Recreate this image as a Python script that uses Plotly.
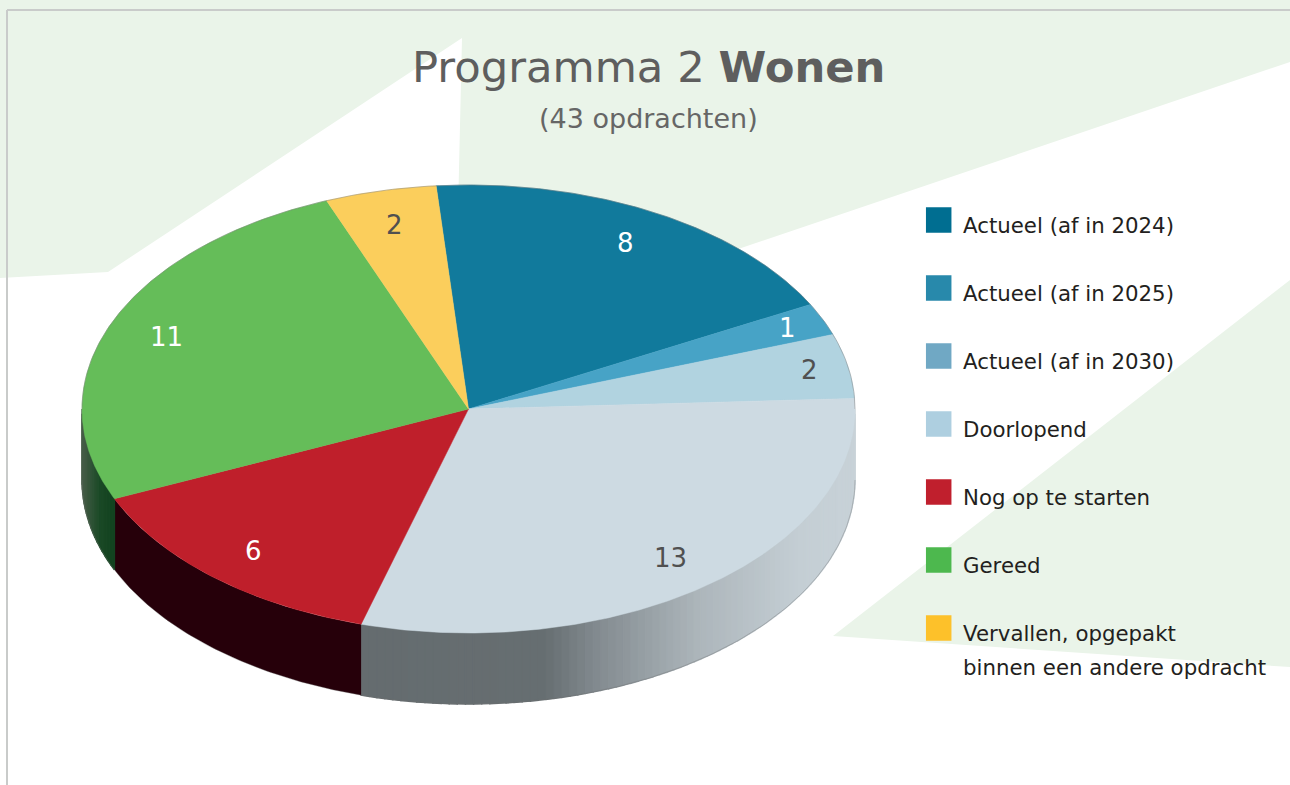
import numpy as np
import plotly.graph_objects as go

# ---------------- data ----------------
title_main = "Programma 2 "
title_bold = "Wonen"
subtitle = "(43 opdrachten)"
categories = [
    "Actueel (af in 2024)",
    "Actueel (af in 2025)",
    "Actueel (af in 2030)",
    "Doorlopend",
    "Nog op te starten",
    "Gereed",
    "Vervallen, opgepakt\nbinnen een andere opdracht",
]
values = [8, 1, 2, 13, 6, 11, 2]
legend_colors = ["#006E91", "#2889AB", "#70A8C4", "#AECFE0", "#C01F2D", "#4DB84E", "#FDC12A"]
top_colors = ["#117A9C", "#47A3C6", "#B1D3E0", "#CDDAE2", "#BF1F2B", "#65BD59", "#FBCE5C"]
label_colors = ["#FFFFFF", "#FFFFFF", "#505050", "#505050", "#FFFFFF", "#FFFFFF", "#505050"]

# ---------------- geometry / style ----------------
W, H = 1290, 785
CX, CY, RX, RY, DEPTH = 468.5, 409.0, 386.5, 224.0, 71.0
START = 94.8          # degrees, slices run clockwise
side_stops = {
    3: [(360, "#656C6F"), (545, "#666E71"), (600, "#848C91"), (700, "#ADB6BB"), (800, "#C4CED4"), (860, "#C8D2D8")],
    4: [(0, "#26000A"), (1290, "#26000A")],
    5: [(82, "#4A5E4A"), (100, "#1B4A27"), (120, "#0F3F1C")],
}
BG_GREEN = "#EAF4E9"


def label_radius(mid_deg):
    # labels of thin slices near the right rim sit a little further out
    return 0.90 if abs(mid_deg) < 30 else 0.845


def hex2rgb(h):
    h = h.lstrip("#")
    return np.array([int(h[i:i + 2], 16) for i in (0, 2, 4)], dtype=float)


def interp_color(stops, x):
    xs = [s[0] for s in stops]
    cols = np.array([hex2rgb(s[1]) for s in stops])
    rgb = [np.interp(x, xs, cols[:, k]) for k in range(3)]
    return "rgb(%d,%d,%d)" % tuple(int(round(v)) for v in rgb)


def px(t):
    return CX + RX * np.cos(np.radians(t))


def py(t, dz=0.0):
    return CY - RY * np.sin(np.radians(t)) + dz


fig = go.Figure()

total = float(sum(values))
bounds = [START]
for v in values:
    bounds.append(bounds[-1] - 360.0 * v / total)

# ---- side walls (visible front half: angles between -180 and 0) ----
for i, v in enumerate(values):
    a_start, a_end = bounds[i], bounds[i + 1]
    lo, hi = max(a_end, -180.0), min(a_start, 0.0)
    if hi <= lo or i not in side_stops:
        continue
    stops = side_stops[i]
    # solid base for the whole wall piece
    t = np.linspace(lo, hi, 80)
    xs = np.concatenate([px(t), px(t[::-1])])
    ys = np.concatenate([py(t), py(t[::-1], DEPTH)])
    base_col = interp_color(stops, float(px((lo + hi) / 2)))
    fig.add_trace(go.Scatter(x=list(xs) + [xs[0]], y=list(ys) + [ys[0]], mode="lines",
                             fill="toself", fillcolor=base_col, line=dict(color=base_col, width=0),
                             hoverinfo="skip", showlegend=False))
    if len(set(s[1] for s in stops)) == 1:
        continue
    n = max(2, int((hi - lo) / 1.2))
    edges = np.linspace(lo, hi, n + 1)
    for k in range(n):
        t = np.linspace(edges[k], edges[k + 1], 6)
        xs = np.concatenate([px(t), px(t[::-1])])
        ys = np.concatenate([py(t), py(t[::-1], DEPTH)])
        col = interp_color(stops, float(px((edges[k] + edges[k + 1]) / 2)))
        fig.add_trace(go.Scatter(x=list(xs) + [xs[0]], y=list(ys) + [ys[0]], mode="lines",
                                 fill="toself", fillcolor=col, line=dict(color=col, width=1.4),
                                 hoverinfo="skip", showlegend=False))

# outline of the side bottom edge
tb = np.linspace(-180, 0, 200)
fig.add_trace(go.Scatter(x=px(tb), y=py(tb, DEPTH), mode="lines",
                         line=dict(color="rgba(110,110,110,0.35)", width=1),
                         hoverinfo="skip", showlegend=False))

# ---- top face slices ----
for i, v in enumerate(values):
    t = np.linspace(bounds[i], bounds[i + 1], max(4, int(abs(bounds[i] - bounds[i + 1]) * 2)))
    xs = [CX] + list(px(t)) + [CX]
    ys = [CY] + list(py(t)) + [CY]
    fig.add_trace(go.Scatter(x=xs, y=ys, mode="lines", fill="toself", fillcolor=top_colors[i],
                             line=dict(color=top_colors[i], width=0.5),
                             name=categories[i].replace("\n", " "), hoverinfo="name",
                             showlegend=False))

# rim outline
tr = np.linspace(0, 180, 200)
fig.add_trace(go.Scatter(x=px(tr), y=py(tr), mode="lines",
                         line=dict(color="rgba(120,120,120,0.45)", width=1),
                         hoverinfo="skip", showlegend=False))

annotations = []
# value labels
for i, v in enumerate(values):
    mid = (bounds[i] + bounds[i + 1]) / 2
    r = label_radius(mid)
    lx = CX + r * RX * np.cos(np.radians(mid))
    ly = CY - r * RY * np.sin(np.radians(mid))
    annotations.append(dict(x=lx, y=ly, xref="x", yref="y", text=str(v), showarrow=False,
                            xanchor="center", yanchor="middle",
                            font=dict(family="DejaVu Sans", size=26, color=label_colors[i])))

# ---- legend (manual) ----
LEG_X, LEG_Y0, LEG_DY = 938.7, 220.0, 68.0
leg_y = [LEG_Y0 + LEG_DY * i for i in range(len(categories))]
fig.add_trace(go.Scatter(x=[LEG_X] * len(categories), y=leg_y, mode="markers",
                         marker=dict(symbol="square", size=25.5, color=legend_colors, line=dict(width=0)),
                         hoverinfo="skip", showlegend=False))
for i, lab in enumerate(categories):
    for j, line in enumerate(lab.split("\n")):
        annotations.append(dict(x=961, y=leg_y[i] + 5 + 34 * j, xref="x", yref="y", text=line,
                                showarrow=False, xanchor="left", yanchor="middle",
                                font=dict(family="DejaVu Sans", size=21.3, color="#231F20")))

# ---- titles ----
annotations.append(dict(x=648.5, y=67, xref="x", yref="y", text=title_main + "<b>" + title_bold + "</b>",
                        showarrow=False, xanchor="center", yanchor="middle",
                        font=dict(family="DejaVu Sans", size=43.3, color="#5E5E5E")))
annotations.append(dict(x=648.5, y=118, xref="x", yref="y", text=subtitle,
                        showarrow=False, xanchor="center", yanchor="middle",
                        font=dict(family="DejaVu Sans", size=27, color="#666666")))

shapes = [
    dict(type="path", xref="x", yref="y", layer="below", line=dict(width=0), fillcolor=BG_GREEN,
         path="M 0 0 L 1290 0 L 1290 62 L 455 345 L 462 38 L 108 272 L 0 278 Z"),
    dict(type="path", xref="x", yref="y", layer="below", line=dict(width=0), fillcolor=BG_GREEN,
         path="M 1290 280 L 833 636 L 1290 667 Z"),
    dict(type="line", xref="x", yref="y", layer="below", x0=7, x1=1290, y0=10, y1=10,
         line=dict(color="#C9CBCA", width=2)),
    dict(type="line", xref="x", yref="y", layer="below", x0=7, x1=7, y0=10, y1=785,
         line=dict(color="#C9CBCA", width=2)),
]

fig.update_layout(
    width=W, height=H, margin=dict(l=0, r=0, t=0, b=0),
    paper_bgcolor="white", plot_bgcolor="white",
    xaxis=dict(range=[0, W], visible=False, fixedrange=True),
    yaxis=dict(range=[H, 0], visible=False, fixedrange=True),
    showlegend=False, annotations=annotations, shapes=shapes,
)

fig.write_html("out.html", config={"displayModeBar": False},
               post_script="document.body.style.margin='0';")
